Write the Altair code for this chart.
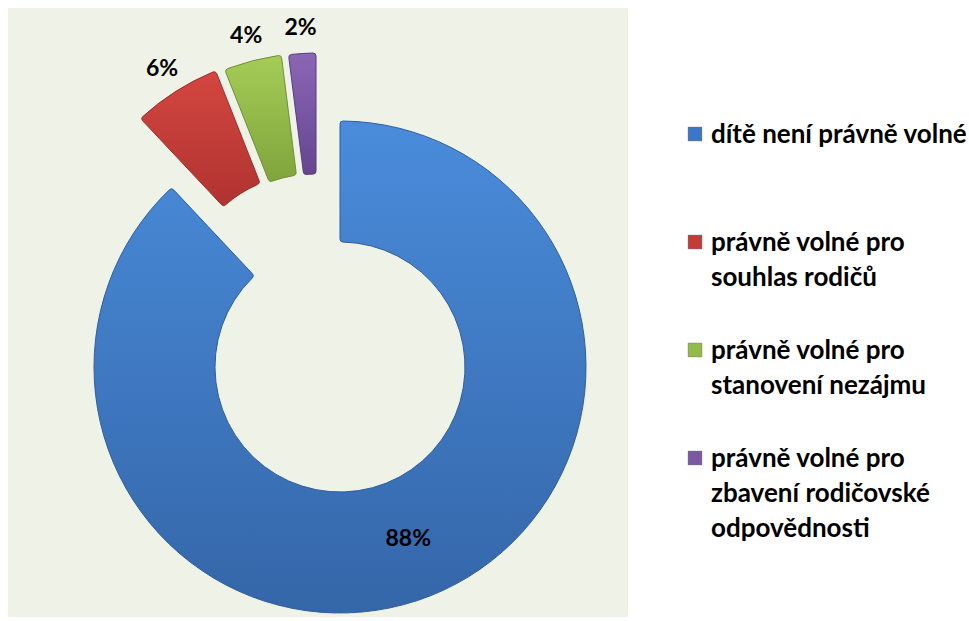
import math
import altair as alt

# ---- data ----
categories = [
    "dítě není právně volné",
    "právně volné pro souhlas rodičů",
    "právně volné pro stanovení nezájmu",
    "právně volné pro zbavení rodičovské odpovědnosti",
]
values = [88, 6, 4, 2]
legend_texts = [
    "dítě není právně volné",
    "právně volné pro\nsouhlas rodičů",
    "právně volné pro\nstanovení nezájmu",
    "právně volné pro\nzbavení rodičovské\nodpovědnosti",
]

# ---- styles ----
colors_top = ["#4A8CDB", "#D4463F", "#A5CC57", "#8A67B5"]
colors_bottom = ["#3466A8", "#B03331", "#80A43B", "#654590"]
stroke_colors = ["#2F5E9E", "#9C2E2C", "#738F36", "#583E7E"]
legend_colors = ["#3D76C4", "#C43C39", "#93BB49", "#7A58A2"]
FONT = "Lato"

rows = [
    {"category": c, "value": v, "order": i, "legend": t}
    for i, (c, v, t) in enumerate(zip(categories, values, legend_texts))
]

CX, CY = 340, 367          # main ring centre
SX, SY = 319, 299          # exploded small slices centre (base)
SPREAD = 21                # extra spread of exploded slices
R_OUT, R_IN = 246, 125

base = (
    alt.Chart(alt.Data(values=rows))
    .transform_joinaggregate(total="sum(value)")
    .transform_window(cum="sum(value)", sort=[alt.SortField("order")])
    .transform_calculate(
        start="(datum.cum - datum.value) / datum.total",
        end="datum.cum / datum.total",
        mid="(datum.cum - datum.value / 2) / datum.total",
        pct="format(datum.value / datum.total, '.0%')",
    )
    .transform_calculate(
        cx=f"{SX} + {SPREAD} * sin(2 * PI * datum.mid)",
    )
)

theta_scale = alt.Scale(domain=[0, 1], range=[0, 2 * math.pi])

background = alt.Chart(alt.Data(values=[{}])).mark_rect(fill="#EFF2E6").encode(
    x=alt.value(8), x2=alt.value(628), y=alt.value(8), y2=alt.value(617)
)


def grad(i):
    return alt.LinearGradient(
        gradient="linear",
        stops=[
            alt.GradientStop(offset=0, color=colors_top[i]),
            alt.GradientStop(offset=1, color=colors_bottom[i]),
        ],
        x1=0, x2=0, y1=0, y2=1,
    )


layers = [background]
for i in range(len(categories)):
    arc_kwargs = dict(
        innerRadius=R_IN,
        outerRadius=R_OUT,
        fill=grad(i),
        stroke=stroke_colors[i],
        strokeWidth=1,
        cornerRadius=3,
    )
    if i == 0:
        x_enc, y_enc = alt.value(CX), alt.value(CY)
    else:
        arc_kwargs["padAngle"] = 0.012
        x_enc, y_enc = alt.X("cx:Q", scale=None), alt.value(SY)
    layers.append(
        base.transform_filter(alt.datum.order == i)
        .mark_arc(**arc_kwargs)
        .encode(
            theta=alt.Theta("start:Q", scale=theta_scale),
            theta2="end:Q",
            x=x_enc,
            y=y_enc,
        )
    )

big_label = (
    base.transform_filter(alt.datum.order == 0)
    .mark_text(radius=(R_IN + R_OUT) / 2, font=FONT, fontSize=23, fontWeight="bold",
               color="black", align="center", baseline="middle")
    .encode(theta=alt.Theta("mid:Q", scale=theta_scale), text="pct:N",
            x=alt.value(CX), y=alt.value(CY))
)
small_labels = (
    base.transform_filter(alt.datum.order > 0)
    .mark_text(radius=272, font=FONT, fontSize=23, fontWeight="bold",
               color="black", align="center", baseline="middle")
    .encode(theta=alt.Theta("mid:Q", scale=theta_scale), text="pct:N",
            x=alt.X("cx:Q", scale=None), y=alt.value(SY))
)

legend_y = alt.Y("category:N", scale=alt.Scale(domain=categories, range=[134, 458], padding=0), axis=None)
legend_squares = base.mark_square(size=190, opacity=1, stroke="#333333", strokeWidth=0.3).encode(
    x=alt.value(695),
    y=legend_y,
    color=alt.Color("category:N", scale=alt.Scale(domain=categories, range=legend_colors), legend=None),
)
legend_text = base.mark_text(
    align="left", baseline="alphabetic", dy=9, lineBreak="\n", lineHeight=35,
    font=FONT, fontSize=26, fontWeight="bold", color="black",
).encode(x=alt.value(711), y=legend_y, text="legend:N")

layers += [big_label, small_labels, legend_squares, legend_text]

chart = (
    alt.layer(*layers)
    .properties(width=969, height=621, autosize=alt.AutoSizeParams(type="none"), padding=0)
    .configure_view(stroke=None)
)

chart.save("out.html", embed_options={"renderer": "svg", "actions": False})
